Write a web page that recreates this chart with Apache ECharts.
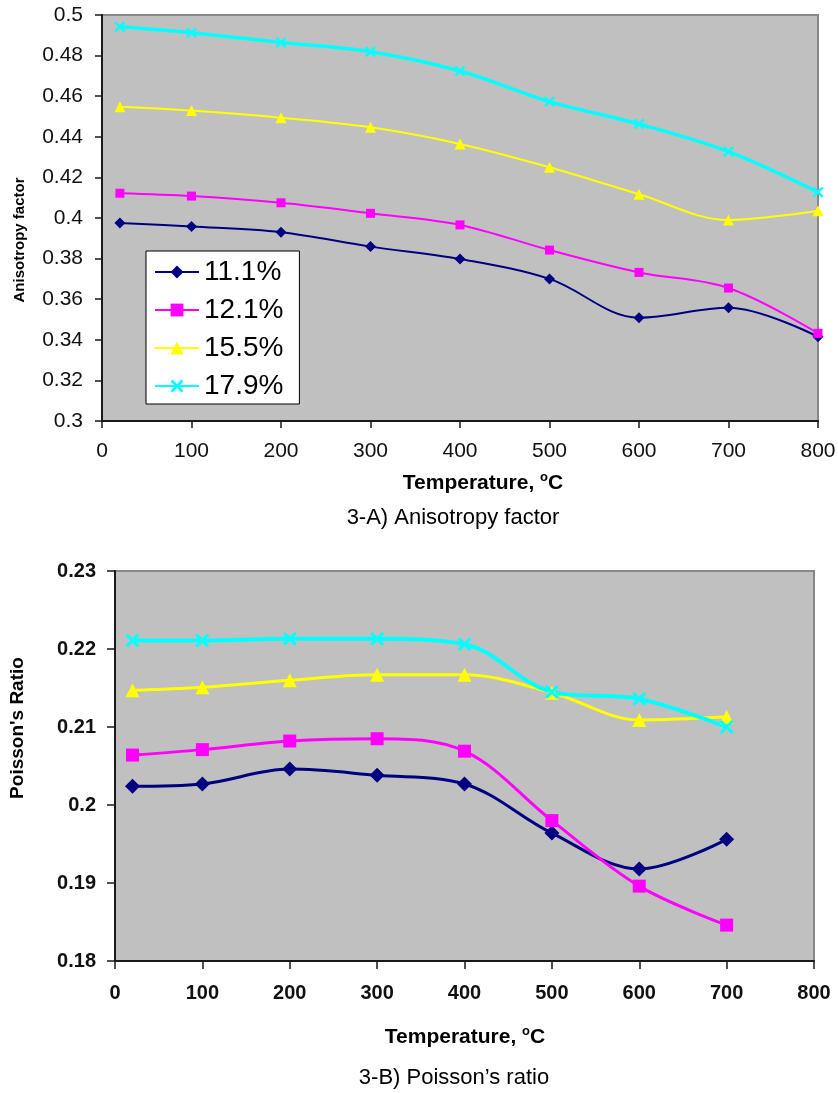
<!DOCTYPE html>
<html>
<head>
<meta charset="utf-8">
<script src="https://cdn.jsdelivr.net/npm/echarts@6/dist/echarts.min.js"></script>
<style>
  html, body { margin: 0; padding: 0; background: #fff; }
  #chart { width: 838px; height: 1093px; }
</style>
</head>
<body>
<div id="chart"></div>
<script>
// Temperatures (°C) for the anisotropy-factor panel
const temperatureA = [20, 100, 200, 300, 400, 500, 600, 700, 800];
const anisotropy111 = [0.3975, 0.3958, 0.3930, 0.3859, 0.3798, 0.3700, 0.3509, 0.3558, 0.3415];
const anisotropy121 = [0.4122, 0.4108, 0.4075, 0.4023, 0.3966, 0.3842, 0.3732, 0.3655, 0.3432];
const anisotropy155 = [0.4548, 0.4529, 0.4494, 0.4447, 0.4365, 0.4250, 0.4117, 0.3990, 0.4036];
const anisotropy179 = [0.4942, 0.4913, 0.4865, 0.4819, 0.4724, 0.4573, 0.4463, 0.4327, 0.4127];

// Temperatures (°C) for the Poisson's ratio panel
const temperatureB = [20, 100, 200, 300, 400, 500, 600, 700];
const poisson111 = [0.2024, 0.2027, 0.2046, 0.2038, 0.2027, 0.1964, 0.1918, 0.1956];
const poisson121 = [0.2064, 0.2071, 0.2082, 0.2085, 0.2069, 0.1980, 0.1896, 0.1846];
const poisson155 = [0.2147, 0.2151, 0.2160, 0.2167, 0.2167, 0.2144, 0.2109, 0.2113];
const poisson179 = [0.2211, 0.2211, 0.2213, 0.2213, 0.2206, 0.2145, 0.2136, 0.2100];

const seriesNames = ['11.1%', '12.1%', '15.5%', '17.9%'];
const seriesColors = ['#000080', '#FF00FF', '#FFFF00', '#00FFFF'];

// X-shaped marker drawn as a filled outline
const crossSymbol = 'path://M0,1.5 L1.5,0 L5,3.5 L8.5,0 L10,1.5 L6.5,5 L10,8.5 L8.5,10 L5,6.5 L1.5,10 L0,8.5 L3.5,5 Z';
const symbols = ['diamond', 'rect', 'triangle', crossSymbol];

const FONT = '"Liberation Sans", Arial, Helvetica, sans-serif';

function pairs(xs, ys) { return xs.map((x, i) => [x, ys[i]]); }

const topSizes = [11, 9, 11, 11];
const topWidths = [2, 2, 2, 3.5];
const bottomSizes = [15, 13, 14, 14];
const bottomWidths = [3, 3, 3, 4];

const topData = [anisotropy111, anisotropy121, anisotropy155, anisotropy179];
const bottomData = [poisson111, poisson121, poisson155, poisson179];

const series = [];
topData.forEach((vals, i) => {
  series.push({
    name: seriesNames[i], type: 'line', xAxisIndex: 0, yAxisIndex: 0,
    data: pairs(temperatureA, vals), smooth: 0.35,
    symbol: symbols[i], symbolSize: topSizes[i],
    lineStyle: { color: seriesColors[i], width: topWidths[i] },
    itemStyle: { color: seriesColors[i] },
    emphasis: { disabled: true }, animation: false
  });
});
bottomData.forEach((vals, i) => {
  series.push({
    name: seriesNames[i], type: 'line', xAxisIndex: 1, yAxisIndex: 1,
    data: pairs(temperatureB, vals), smooth: 0.35,
    symbol: symbols[i], symbolSize: bottomSizes[i],
    lineStyle: { color: seriesColors[i], width: bottomWidths[i] },
    itemStyle: { color: seriesColors[i] },
    emphasis: { disabled: true }, animation: false
  });
});

const gridCommon = {
  show: true, backgroundColor: '#C0C0C0', borderColor: '#888888', borderWidth: 2,
  containLabel: false, outerBoundsMode: 'none'
};

const axisLineStyle = { show: true, lineStyle: { color: '#1a1a1a', width: 2 } };
const tickStyle = { show: true, inside: false, length: 7, lineStyle: { color: '#1a1a1a', width: 1.5 } };
const fmt = v => String(+v.toFixed(2));

function tempTitle(x, y) {
  return {
    type: 'text', x: x, y: y,
    style: {
      text: '{b|Temperature, }{s|o}{b|C}',
      align: 'center', verticalAlign: 'middle',
      rich: {
        b: { fontFamily: FONT, fontSize: 21, fontWeight: 'bold', fill: '#000', lineHeight: 24 },
        s: { fontFamily: FONT, fontSize: 13, fontWeight: 'bold', fill: '#000', lineHeight: 13, verticalAlign: 'top' }
      }
    }
  };
}

const option = {
  animation: false,
  backgroundColor: '#ffffff',
  grid: [
    Object.assign({ left: 102, top: 15, width: 716, height: 406 }, gridCommon),
    Object.assign({ left: 115, top: 571, width: 699, height: 390 }, gridCommon)
  ],
  xAxis: [
    {
      type: 'value', gridIndex: 0, min: 0, max: 800, interval: 100,
      axisLine: axisLineStyle, axisTick: tickStyle, splitLine: { show: false },
      axisLabel: { fontFamily: FONT, fontSize: 21, color: '#111', margin: 20 }
    },
    {
      type: 'value', gridIndex: 1, min: 0, max: 800, interval: 100,
      axisLine: axisLineStyle, axisTick: Object.assign({}, tickStyle, { length: 8 }), splitLine: { show: false },
      axisLabel: { fontFamily: FONT, fontSize: 20, fontWeight: 'bold', color: '#111', margin: 22 }
    }
  ],
  yAxis: [
    {
      type: 'value', gridIndex: 0, min: 0.3, max: 0.5, interval: 0.02,
      axisLine: axisLineStyle, axisTick: tickStyle, splitLine: { show: false },
      axisLabel: { fontFamily: FONT, fontSize: 21, color: '#111', margin: 19, formatter: fmt }
    },
    {
      type: 'value', gridIndex: 1, min: 0.18, max: 0.23, interval: 0.01,
      axisLine: axisLineStyle, axisTick: Object.assign({}, tickStyle, { length: 8 }), splitLine: { show: false },
      axisLabel: { fontFamily: FONT, fontSize: 20, fontWeight: 'bold', color: '#111', margin: 19, formatter: fmt }
    }
  ],
  legend: {
    data: seriesNames,
    orient: 'vertical',
    left: 146, top: 251,
    backgroundColor: '#ffffff', borderColor: '#000000', borderWidth: 1, borderRadius: 0,
    padding: [7, 16, 4, 8],
    itemWidth: 44, itemHeight: 16, itemGap: 10,
    selectedMode: false,
    textStyle: { fontFamily: FONT, fontSize: 28, color: '#000', lineHeight: 26 }
  },
  graphic: [
    {
      type: 'text', x: 20, y: 240, rotation: Math.PI / 2,
      style: { text: 'Anisotropy factor', fontFamily: FONT, fontSize: 15, fontWeight: 'bold', fill: '#000', align: 'center', verticalAlign: 'middle' }
    },
    tempTitle(483, 483),
    {
      type: 'text', x: 453, y: 518,
      style: { text: '3-A) Anisotropy factor', fontFamily: FONT, fontSize: 22, fill: '#000', align: 'center', verticalAlign: 'middle' }
    },
    {
      type: 'text', x: 18, y: 728, rotation: Math.PI / 2,
      style: { text: "Poisson's Ratio", fontFamily: FONT, fontSize: 19, fontWeight: 'bold', fill: '#000', align: 'center', verticalAlign: 'middle' }
    },
    tempTitle(465, 1037),
    {
      type: 'text', x: 454, y: 1078,
      style: { text: '3-B) Poisson\u2019s ratio', fontFamily: FONT, fontSize: 22, fill: '#000', align: 'center', verticalAlign: 'middle' }
    }
  ],
  series: series
};

const chart = echarts.init(document.getElementById('chart'), null, { renderer: 'canvas' });
chart.setOption(option);
</script>
</body>
</html>
